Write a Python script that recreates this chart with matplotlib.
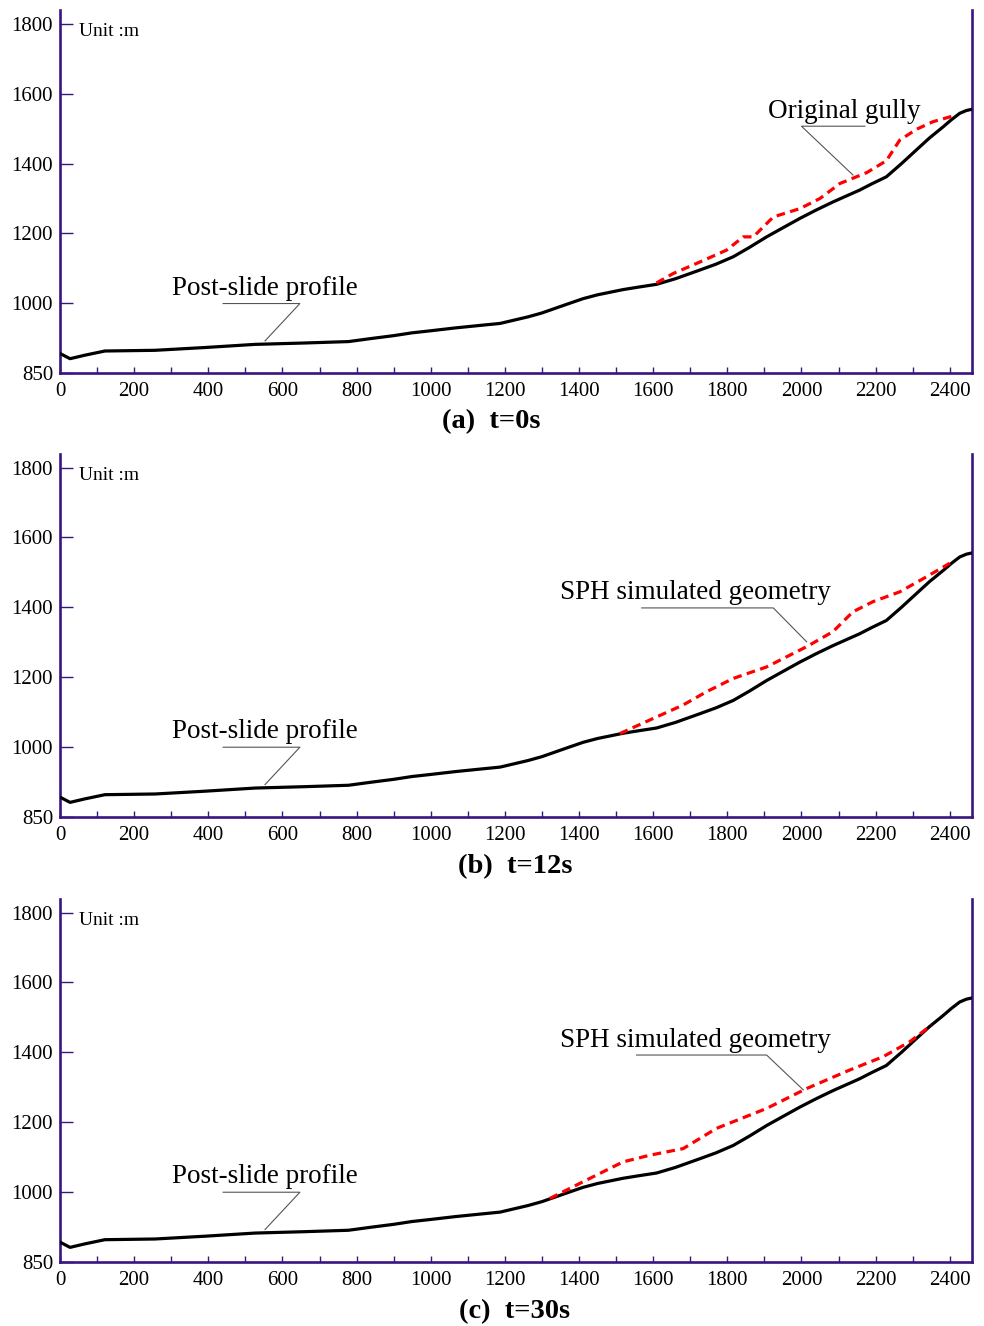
import matplotlib
matplotlib.use('Agg')
import matplotlib.pyplot as plt

plt.rcParams['font.family'] = ['Liberation Serif', 'DejaVu Serif']

# post-slide profile (same in all three panels)
profile_x = [0, 27, 67, 121, 256, 391, 526, 661, 778, 841, 900, 949, 1000, 1065, 1130, 1187, 1263,
             1300, 1335, 1370, 1411, 1450, 1519, 1560, 1609, 1660, 1726, 1770, 1816, 1860, 1906,
             1950, 1996, 2040, 2085, 2157, 2190, 2229, 2270, 2310, 2345, 2382, 2405, 2427, 2445, 2458]
profile_y = [856, 841, 851, 863, 865, 873, 882, 886, 890, 899, 907, 915, 921, 929, 936, 942, 961,
             972, 985, 998, 1013, 1024, 1039, 1046, 1054, 1070, 1095, 1112, 1133, 1160, 1190,
             1216, 1243, 1267, 1290, 1324, 1342, 1362, 1400, 1439, 1473, 1505, 1526, 1544, 1552, 1555]

# red dashed surfaces
gully_x = [1609, 1654, 1726, 1798, 1843, 1870, 1924, 1996, 2050, 2104, 2176, 2229, 2265, 2310, 2355, 2418]
gully_y = [1058, 1085, 1118, 1152, 1190, 1190, 1247, 1271, 1300, 1343, 1374, 1408, 1467, 1498, 1520, 1539]

sph12_x = [1510, 1591, 1681, 1744, 1816, 1906, 2014, 2085, 2139, 2193, 2265, 2337, 2400]
sph12_y = [1038, 1077, 1120, 1158, 1196, 1229, 1287, 1330, 1387, 1416, 1444, 1487, 1526]

sph30_x = [1321, 1411, 1519, 1591, 1681, 1771, 1906, 2014, 2130, 2220, 2292, 2351]
sph30_y = [981, 1029, 1086, 1105, 1124, 1182, 1239, 1296, 1349, 1387, 1430, 1478]

x_ticks = [0, 200, 400, 600, 800, 1000, 1200, 1400, 1600, 1800, 2000, 2200, 2400]
y_ticks = [800, 1000, 1200, 1400, 1600, 1800]
y_tick_labels = ['850', '1000', '1200', '1400', '1600', '1800']

captions = ['(a)  t=0s', '(b)  t=12s', '(c)  t=30s']
labels = ['Original gully', 'SPH simulated geometry', 'SPH simulated geometry']

spine_col = '#3a1480'

fig = plt.figure(figsize=(9.84, 13.26), dpi=100)

boxes = [[0.061, 0.7187, 0.9268, 0.2738],
         [0.061, 0.3841, 0.9268, 0.2738],
         [0.061, 0.0485, 0.9268, 0.2738]]
caption_x = [0.499, 0.524, 0.523]
caption_y = [0.6817, 0.3462, 0.0106]

# label text position, underline and leader end
red_label = [
    dict(tx=2116, ty=1548, ux0=2000, ux1=2171, uy=1507, ex=2139, ey=1367, start='left'),
    dict(tx=1714, ty=1441, ux0=1569, ux1=1924, uy=1398, ex=2014, ey=1301, start='right'),
    dict(tx=1714, ty=1435, ux0=1555, ux1=1906, uy=1392, ex=2005, ey=1292, start='right'),
]
red_data = [(gully_x, gully_y), (sph12_x, sph12_y), (sph30_x, sph30_y)]

for i in range(3):
    ax = fig.add_axes(boxes[i])
    ax.plot(profile_x, profile_y, color='black', lw=2.3, solid_joinstyle='round', zorder=3)
    rx, ry = red_data[i]
    ax.plot(rx, ry, color='#ff0000', lw=2.3, dashes=(2.7, 1.7), zorder=4)

    ax.set_xlim(0, 2460)
    ax.set_ylim(800, 1840)
    ax.set_xticks(x_ticks)
    ax.set_xticks(range(100, 2460, 200), minor=True)
    ax.set_yticks(y_ticks)
    ax.set_yticklabels(y_tick_labels)

    for s in ['left', 'right', 'bottom']:
        ax.spines[s].set_color(spine_col)
        ax.spines[s].set_linewidth(1.9)
    ax.spines['top'].set_visible(False)
    ax.tick_params(axis='x', which='both', direction='in', length=4, width=1,
                   color=spine_col, labelsize=15, pad=6.5)
    ax.tick_params(axis='y', direction='in', length=9, width=1, color=spine_col,
                   labelsize=15, pad=5)

    ax.text(133, 1777, 'Unit :m', fontsize=14, ha='center', va='center')

    # post-slide profile label
    ax.text(553, 1043, 'Post-slide profile', fontsize=19.5, ha='center', va='center')
    ax.plot([440, 647, 553], [999, 999, 892], color='#555555', lw=0.8)

    lab = red_label[i]
    ax.text(lab['tx'], lab['ty'], labels[i], fontsize=19.5, ha='center', va='center')
    if lab['start'] == 'left':
        ax.plot([lab['ux1'], lab['ux0'], lab['ex']], [lab['uy'], lab['uy'], lab['ey']],
                color='#555555', lw=0.8)
    else:
        ax.plot([lab['ux0'], lab['ux1'], lab['ex']], [lab['uy'], lab['uy'], lab['ey']],
                color='#555555', lw=0.8)

    fig.text(caption_x[i], caption_y[i], captions[i], fontsize=20.5, fontweight='bold',
             ha='center', va='center')

fig.savefig('out.png', dpi=100)
